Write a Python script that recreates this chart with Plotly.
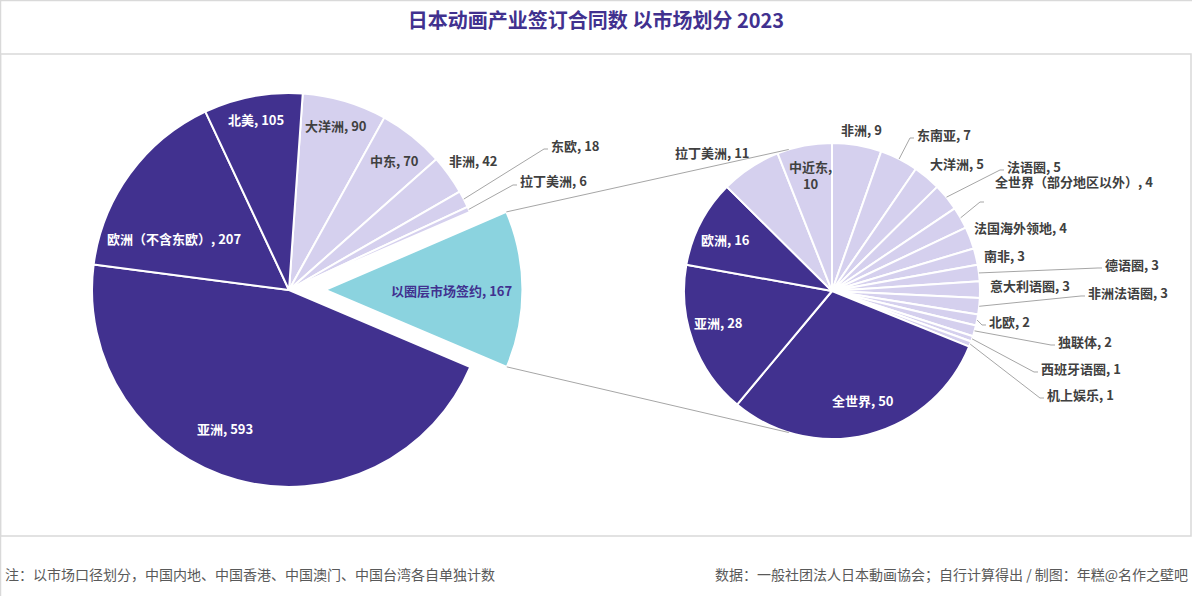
import math
import plotly.graph_objects as go

W, H = 1192, 596

# ---- data ----
main_labels = ["大洋洲", "中东", "非洲", "东欧", "拉丁美洲", "以圈层市场签约",
               "亚洲", "欧洲（不含东欧）", "北美"]
main_values = [90, 70, 42, 18, 6, 167, 593, 207, 105]

sub_labels = ["非洲", "东南亚", "大洋洲", "法语圈", "全世界（部分地区以外）", "法国海外领地",
              "南非", "德语圈", "意大利语圈", "非洲法语圈", "北欧", "独联体", "西班牙语圈",
              "机上娱乐", "全世界", "亚洲", "欧洲", "拉丁美洲", "中近东"]
sub_values = [9, 7, 5, 5, 4, 4, 3, 3, 3, 3, 2, 2, 1, 1, 50, 28, 16, 11, 10]

title_text = "日本动画产业签订合同数 以市场划分 2023"
note_text = "注：以市场口径划分，中国内地、中国香港、中国澳门、中国台湾各自单独计数"
source_text = "数据：一般社团法人日本動画協会；自行计算得出 / 制图：年糕@名作之壁吧"

# ---- style ----
DARK = "#41318f"
LIGHT = "#d5d0ee"
CYAN = "#8bd3df"
GREY_TEXT = "#404040"
LINE_GREY = "#a6a6a6"
FONT = "Noto Sans CJK SC"

main_dark = {"亚洲", "欧洲（不含东欧）", "北美"}
main_pulled = "以圈层市场签约"
sub_dark = {"全世界", "亚洲", "欧洲"}

# pie geometry (pixels)
main_cx, main_cy, main_r = 289, 290, 197
main_rot, main_pull = 4, 0.185
sub_cx, sub_cy, sub_r = 832, 291, 148
sub_link_angles = (343, 197)

# label placement relative to pie centre (px): dx, dy, anchor
main_text_pos = {
    "北美": (-33, -171, "center"),
    "大洋洲": (47, -164, "center"),
    "中东": (105, -130, "center"),
    "非洲": (184, -130, "center"),
    "东欧": (260, -145, "left"),
    "拉丁美洲": (229, -109, "left"),
    "以圈层市场签约": (163, 0, "center"),
    "亚洲": (-64, 138, "center"),
    "欧洲（不含东欧）": (-115, -52, "center"),
}
main_leader = {"东欧", "拉丁美洲"}

sub_text_pos = {
    "非洲": (29, -161, "center"),
    "东南亚": (83, -157, "left"),
    "大洋洲": (125, -128, "center"),
    "法语圈": (173, -125, "left"),
    "全世界（部分地区以外）": (161, -109, "left"),
    "法国海外领地": (140, -64, "left"),
    "南非": (150, -36, "left"),
    "德语圈": (271, -27, "left"),
    "意大利语圈": (156, -5, "left"),
    "非洲法语圈": (254, 1, "left"),
    "北欧": (155, 30, "left"),
    "独联体": (224, 50, "left"),
    "西班牙语圈": (207, 77, "left"),
    "机上娱乐": (213, 103, "left"),
    "全世界": (31, 109, "center"),
    "亚洲": (-114, 31, "center"),
    "欧洲": (-107, -52, "center"),
    "拉丁美洲": (-120, -139, "center"),
    "中近东": (-21, -116, "center"),
}
sub_leader = {"东南亚", "法语圈", "全世界（部分地区以外）", "德语圈", "非洲法语圈",
              "北欧", "独联体", "西班牙语圈", "机上娱乐"}
elbow_override = {"全世界（部分地区以外）": (148, -89)}


def px(x):
    return x / W


def py(y):
    return 1 - y / H


def domain(cx, cy, r, pull=0.0):
    half = r * (1 + pull)
    return dict(x=[px(cx - half), px(cx + half)], y=[py(cy + half), py(cy - half)])


def slice_angles(values, rot):
    total = sum(values)
    out, a = [], rot
    for v in values:
        b = a + v / total * 360
        out.append((a, b))
        a = b
    return out


def polar(cx, cy, r, ang):
    t = math.radians(ang)
    return cx + r * math.sin(t), cy - r * math.cos(t)


def path(points):
    return "M " + " L ".join(f"{px(x):.5f},{py(y):.5f}" for x, y in points)


main_colors = [CYAN if l == main_pulled else DARK if l in main_dark else LIGHT for l in main_labels]
sub_colors = [DARK if l in sub_dark else LIGHT for l in sub_labels]

fig = go.Figure()
fig.add_trace(go.Pie(
    labels=main_labels, values=main_values, sort=False, direction="clockwise",
    rotation=main_rot, pull=[main_pull if l == main_pulled else 0 for l in main_labels],
    marker=dict(colors=main_colors, line=dict(color="white", width=2)),
    textinfo="none", hoverinfo="label+value", showlegend=False,
    domain=domain(main_cx, main_cy, main_r, main_pull),
))
fig.add_trace(go.Pie(
    labels=sub_labels, values=sub_values, sort=False, direction="clockwise",
    rotation=0,
    marker=dict(colors=sub_colors, line=dict(color="white", width=2)),
    textinfo="none", hoverinfo="label+value", showlegend=False,
    domain=domain(sub_cx, sub_cy, sub_r),
))

annotations = []
shapes = []


def add_labels(labels, values, colors, cx, cy, r, rot, text_pos, leaders):
    for (a0, a1), lab, val, col in zip(slice_angles(values, rot), labels, values, colors):
        dx, dy, anchor = text_pos[lab]
        tx, ty = cx + dx, cy + dy
        inside = anchor == "center" and math.hypot(dx, dy) < r * 0.95
        if col == DARK and inside:
            tcol = "white"
        elif col == CYAN:
            tcol = DARK
        else:
            tcol = GREY_TEXT
        text = f"{lab}, {val}"
        if lab == "中近东":
            text = f"{lab},<br>{val}"
        annotations.append(dict(
            x=px(tx), y=py(ty), xref="paper", yref="paper", text=text, showarrow=False,
            xanchor=anchor, yanchor="middle",
            font=dict(family=FONT, size=13, color=tcol, weight="bold"),
        ))
        if lab in leaders:
            edge = polar(cx, cy, r, (a0 + a1) / 2)
            if lab in elbow_override:
                ex, ey = cx + elbow_override[lab][0], cy + elbow_override[lab][1]
                pts = [edge, (ex, ey), (ex + 4, ey)]
            else:
                pts = [edge, (tx - 5, ty + 4), (tx - 1, ty + 4)]
            shapes.append(dict(type="path", xref="paper", yref="paper", path=path(pts),
                               line=dict(color=LINE_GREY, width=1)))


add_labels(main_labels, main_values, main_colors, main_cx, main_cy, main_r, main_rot,
           main_text_pos, main_leader)
add_labels(sub_labels, sub_values, sub_colors, sub_cx, sub_cy, sub_r, 0,
           sub_text_pos, sub_leader)

# connector lines between the pulled slice and the second pie
angles = slice_angles(main_values, main_rot)
a0, a1 = angles[main_labels.index(main_pulled)]
pcx, pcy = polar(main_cx, main_cy, main_pull * main_r, (a0 + a1) / 2)
top_corner = polar(pcx, pcy, main_r, a0)
bottom_corner = polar(pcx, pcy, main_r, a1)
top_sub = polar(sub_cx, sub_cy, sub_r, sub_link_angles[0])
bottom_sub = polar(sub_cx, sub_cy, sub_r, sub_link_angles[1])
for p0, p1 in [(top_corner, top_sub), (bottom_corner, bottom_sub)]:
    shapes.append(dict(type="path", xref="paper", yref="paper", path=path([p0, p1]),
                       line=dict(color=LINE_GREY, width=1)))

# frame
FRAME = "#d9d9d9"
shapes.append(dict(type="path", xref="paper", yref="paper",
                   path=path([(0.5, 596), (0.5, 0.5), (1192, 0.5)]),
                   line=dict(color=FRAME, width=1.5)))
shapes.append(dict(type="rect", xref="paper", yref="paper",
                   x0=px(0.5), x1=px(1191), y0=py(536), y1=py(54),
                   line=dict(color=FRAME, width=1.5)))

annotations.append(dict(x=px(3), y=py(574), xref="paper", yref="paper", text=note_text,
                        showarrow=False, xanchor="left", yanchor="middle",
                        font=dict(family=FONT, size=14, color="#595959")))
annotations.append(dict(x=px(1190), y=py(574), xref="paper", yref="paper", text=source_text,
                        showarrow=False, xanchor="right", yanchor="middle",
                        font=dict(family=FONT, size=14, color="#595959")))

fig.update_layout(
    width=W, height=H,
    margin=dict(l=0, r=0, t=0, b=0),
    paper_bgcolor="white", plot_bgcolor="white",
    title=dict(text=title_text, x=0.5, xanchor="center", y=py(21), yanchor="middle",
               font=dict(family=FONT, size=20, color=DARK, weight="bold")),
    annotations=annotations,
    shapes=shapes,
)

# page body has a default margin; remove it so the figure fills the window
fig.write_html("out.html", config={"displayModeBar": False},
               post_script="document.body.style.margin='0';")
